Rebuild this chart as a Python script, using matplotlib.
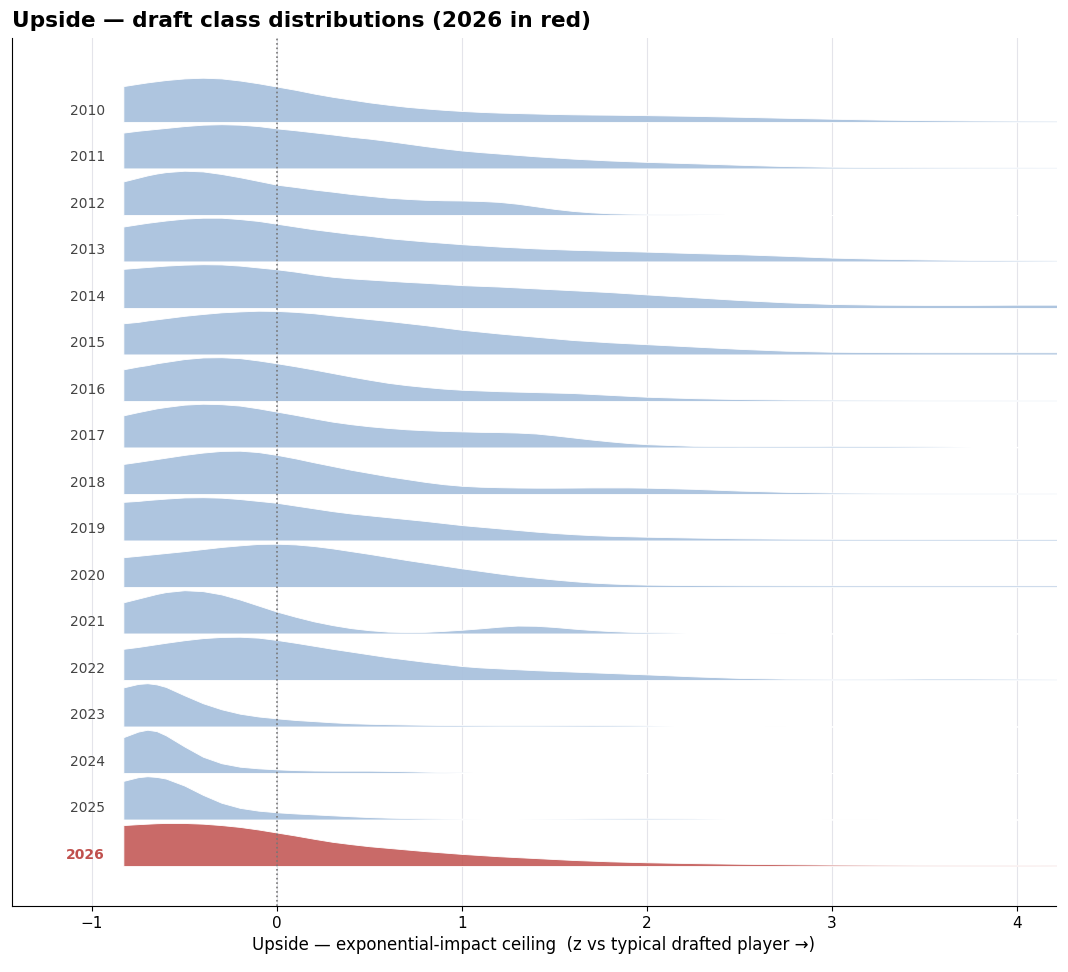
import matplotlib
matplotlib.use("Agg")
import matplotlib.pyplot as plt
import numpy as np
from matplotlib.colors import to_rgba

# ---- data ----
years = [2010, 2011, 2012, 2013, 2014, 2015, 2016, 2017, 2018,
         2019, 2020, 2021, 2022, 2023, 2024, 2025, 2026]

x_grid = [-0.83, -0.75, -0.7, -0.65, -0.6,
          -0.5, -0.4, -0.3, -0.2, -0.1,
          0.0, 0.1, 0.2, 0.3, 0.4, 0.5, 0.6, 0.7, 0.8, 0.9, 1.0,
          1.1, 1.2, 1.3, 1.4, 1.5, 1.6, 1.7, 1.8, 1.9, 2.0,
          2.25, 2.5, 2.75, 3.0, 3.25, 3.5, 3.75, 4.0, 4.25]

d2010 = [0.77, 0.82, 0.85, 0.875, 0.90,
         0.935, 0.95, 0.935, 0.89, 0.83,
         0.76, 0.69, 0.61, 0.54, 0.48, 0.42, 0.37, 0.325, 0.29, 0.26, 0.235,
         0.215, 0.20, 0.19, 0.18, 0.17, 0.163, 0.158, 0.155, 0.15, 0.145,
         0.13, 0.11, 0.088, 0.068, 0.05, 0.038, 0.03, 0.026, 0.024]
d2011 = [0.77, 0.81, 0.83, 0.85, 0.87,
         0.91, 0.94, 0.95, 0.94, 0.91,
         0.86, 0.82, 0.775, 0.73, 0.68, 0.64, 0.59, 0.535, 0.48, 0.43, 0.385,
         0.35, 0.32, 0.29, 0.26, 0.235, 0.21, 0.19, 0.17, 0.155, 0.14,
         0.11, 0.078, 0.05, 0.035, 0.028, 0.025, 0.023, 0.022, 0.021]
d2012 = [0.72, 0.80, 0.85, 0.89, 0.92,
         0.95, 0.935, 0.88, 0.81, 0.73,
         0.65, 0.60, 0.545, 0.50, 0.45, 0.41, 0.37, 0.345, 0.325, 0.315, 0.31,
         0.30, 0.28, 0.24, 0.185, 0.13, 0.085, 0.055, 0.035, 0.027, 0.022,
         0.015, 0.006, 0.0, 0.0, 0.0, 0.0, 0.0, 0.0, 0.0]
d2013 = [0.75, 0.80, 0.83, 0.855, 0.88,
         0.92, 0.94, 0.94, 0.91, 0.87,
         0.81, 0.75, 0.69, 0.64, 0.59, 0.55, 0.50, 0.465, 0.43, 0.40, 0.37,
         0.345, 0.32, 0.30, 0.28, 0.265, 0.25, 0.24, 0.23, 0.22, 0.21,
         0.18, 0.155, 0.12, 0.082, 0.058, 0.042, 0.032, 0.026, 0.022]
d2014 = [0.84, 0.865, 0.88, 0.895, 0.91,
         0.93, 0.94, 0.935, 0.91, 0.87,
         0.83, 0.78, 0.72, 0.67, 0.635, 0.61, 0.585, 0.56, 0.54, 0.515, 0.49,
         0.475, 0.46, 0.44, 0.42, 0.40, 0.38, 0.36, 0.34, 0.315, 0.29,
         0.23, 0.17, 0.12, 0.085, 0.07, 0.065, 0.065, 0.07, 0.07]
d2015 = [0.67, 0.70, 0.73, 0.755, 0.78,
         0.83, 0.87, 0.905, 0.925, 0.94,
         0.935, 0.915, 0.885, 0.84, 0.80, 0.76, 0.72, 0.675, 0.63, 0.58, 0.53,
         0.49, 0.45, 0.415, 0.38, 0.345, 0.31, 0.285, 0.26, 0.24, 0.22,
         0.17, 0.12, 0.08, 0.058, 0.05, 0.047, 0.046, 0.046, 0.046]
d2016 = [0.68, 0.74, 0.77, 0.81, 0.84,
         0.90, 0.935, 0.94, 0.92, 0.87,
         0.81, 0.745, 0.675, 0.60, 0.525, 0.455, 0.39, 0.34, 0.30, 0.265, 0.24,
         0.225, 0.21, 0.20, 0.19, 0.18, 0.17, 0.15, 0.13, 0.11, 0.09,
         0.06, 0.04, 0.03, 0.026, 0.024, 0.022, 0.021, 0.02, 0.019]
d2017 = [0.69, 0.76, 0.80, 0.84, 0.87,
         0.92, 0.94, 0.93, 0.90, 0.84,
         0.77, 0.70, 0.625, 0.555, 0.50, 0.455, 0.42, 0.39, 0.37, 0.355, 0.345,
         0.335, 0.33, 0.32, 0.30, 0.26, 0.215, 0.17, 0.13, 0.095, 0.07,
         0.035, 0.028, 0.03, 0.034, 0.03, 0.024, 0.018, 0.014, 0.01]
d2018 = [0.645, 0.69, 0.72, 0.75, 0.78,
         0.84, 0.89, 0.925, 0.93, 0.90,
         0.84, 0.765, 0.68, 0.60, 0.52, 0.45, 0.38, 0.32, 0.26, 0.21, 0.175,
         0.155, 0.145, 0.138, 0.135, 0.135, 0.137, 0.14, 0.14, 0.14, 0.135,
         0.11, 0.072, 0.045, 0.03, 0.024, 0.021, 0.02, 0.019, 0.018]
d2019 = [0.83, 0.85, 0.87, 0.885, 0.90,
         0.925, 0.93, 0.92, 0.89, 0.85,
         0.81, 0.75, 0.69, 0.63, 0.58, 0.54, 0.50, 0.46, 0.42, 0.375, 0.33,
         0.295, 0.26, 0.225, 0.19, 0.16, 0.135, 0.115, 0.10, 0.09, 0.08,
         0.062, 0.046, 0.038, 0.034, 0.032, 0.031, 0.03, 0.03, 0.03]
d2020 = [0.64, 0.67, 0.69, 0.71, 0.73,
         0.77, 0.815, 0.86, 0.895, 0.925,
         0.93, 0.915, 0.88, 0.83, 0.77, 0.71, 0.645, 0.58, 0.52, 0.46, 0.40,
         0.345, 0.29, 0.24, 0.20, 0.16, 0.125, 0.095, 0.075, 0.06, 0.05,
         0.04, 0.035, 0.033, 0.032, 0.032, 0.032, 0.032, 0.032, 0.032]
d2021 = [0.67, 0.75, 0.80, 0.85, 0.89,
         0.93, 0.91, 0.84, 0.73, 0.60,
         0.47, 0.36, 0.26, 0.18, 0.115, 0.07, 0.04, 0.03, 0.035, 0.055, 0.08,
         0.11, 0.145, 0.17, 0.165, 0.14, 0.105, 0.075, 0.052, 0.037, 0.028,
         0.016, 0.006, 0.0, 0.0, 0.0, 0.0, 0.0, 0.0, 0.0]
d2022 = [0.67, 0.71, 0.74, 0.77, 0.80,
         0.855, 0.90, 0.925, 0.93, 0.91,
         0.86, 0.80, 0.735, 0.67, 0.61, 0.55, 0.49, 0.44, 0.39, 0.345, 0.30,
         0.27, 0.25, 0.23, 0.21, 0.195, 0.18, 0.165, 0.15, 0.135, 0.12,
         0.078, 0.044, 0.028, 0.024, 0.025, 0.03, 0.03, 0.026, 0.022]
d2023 = [0.84, 0.915, 0.93, 0.905, 0.85,
         0.67, 0.50, 0.37, 0.275, 0.215,
         0.175, 0.14, 0.115, 0.09, 0.07, 0.058, 0.05, 0.043, 0.037, 0.032, 0.029,
         0.027, 0.025, 0.025, 0.025, 0.026, 0.027, 0.028, 0.027, 0.025, 0.022,
         0.015, 0.006, 0.0, 0.0, 0.0, 0.0, 0.0, 0.0, 0.0]
d2024 = [0.77, 0.89, 0.93, 0.90, 0.81,
         0.57, 0.35, 0.21, 0.135, 0.10,
         0.078, 0.062, 0.053, 0.05, 0.05, 0.05, 0.045, 0.037, 0.028, 0.02, 0.014,
         0.008, 0.004, 0.001, 0.0, 0.0, 0.0, 0.0, 0.0, 0.0, 0.0,
         0.0, 0.0, 0.0, 0.0, 0.0, 0.0, 0.0, 0.0, 0.0]
d2025 = [0.83, 0.91, 0.93, 0.915, 0.88,
         0.73, 0.53, 0.36, 0.25, 0.19,
         0.155, 0.13, 0.11, 0.09, 0.07, 0.052, 0.04, 0.031, 0.025, 0.021, 0.019,
         0.018, 0.018, 0.018, 0.019, 0.02, 0.021, 0.023, 0.024, 0.025, 0.025,
         0.022, 0.016, 0.008, 0.002, 0.0, 0.0, 0.0, 0.0, 0.0]
d2026 = [0.88, 0.90, 0.91, 0.92, 0.925,
         0.925, 0.91, 0.88, 0.84, 0.785,
         0.72, 0.655, 0.585, 0.52, 0.47, 0.425, 0.39, 0.355, 0.32, 0.29, 0.26,
         0.235, 0.21, 0.19, 0.17, 0.15, 0.13, 0.115, 0.10, 0.09, 0.08,
         0.062, 0.048, 0.038, 0.03, 0.026, 0.023, 0.021, 0.02, 0.019]

densities = [d2010, d2011, d2012, d2013, d2014, d2015, d2016, d2017, d2018,
             d2019, d2020, d2021, d2022, d2023, d2024, d2025, d2026]

highlight_year = 2026
x_ticks = [-1, 0, 1, 2, 3, 4]

# ---- styling ----
blue_fill = to_rgba('#aac2de', 0.95)
red_fill = to_rgba('#c0504d', 0.85)
red_text = '#c0504d'

fig = plt.figure(figsize=(10.68, 9.72), dpi=100)
ax = fig.add_axes([0.0112, 0.0679, 0.9776, 0.8931])

n = len(years)
xg = np.array(x_grid)
for i, (yr, d) in enumerate(zip(years, densities)):
    assert len(d) == len(x_grid), yr
    base = n - 1 - i
    h = np.array(d)
    face = red_fill if yr == highlight_year else blue_fill
    ax.fill_between(xg, base, base + h, facecolor=face, edgecolor='white',
                    linewidth=0.6, zorder=2 + i * 0.01)
    if yr == highlight_year:
        ax.text(-0.93, base + 0.24, str(yr), ha='right', va='center',
                fontsize=10, color=red_text, fontweight='bold', zorder=5)
    else:
        ax.text(-0.93, base + 0.24, str(yr), ha='right', va='center',
                fontsize=10, color='#444444', zorder=5)

ax.axvline(0, color='#777777', linestyle=':', linewidth=1.2, zorder=4)

ax.set_xlim(-1.432, 4.21)
ax.set_ylim(-0.86, n - 1 + 1.806)
ax.set_xticks(x_ticks)
ax.set_yticks([])
ax.tick_params(axis='x', labelsize=11)
ax.grid(axis='x', color='#e4e4ea', linewidth=0.8, zorder=0)
ax.set_axisbelow(True)
for s in ['top', 'right']:
    ax.spines[s].set_visible(False)

ax.set_xlabel('Upside — exponential-impact ceiling  (z vs typical drafted player →)',
              fontsize=12)
ax.set_title('Upside — draft class distributions (2026 in red)', loc='left',
             fontsize=15.6, fontweight='bold', pad=8)

fig.savefig('out.png', dpi=100)
